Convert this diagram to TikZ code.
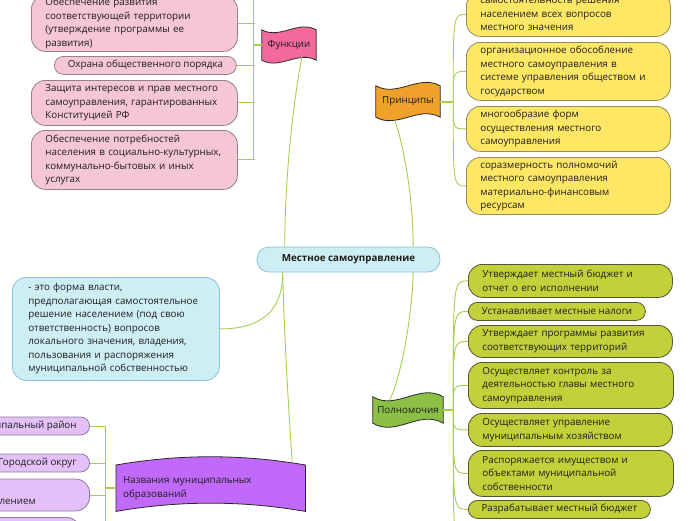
\documentclass[tikz,border=0pt]{standalone}
\usepackage{fontspec}
\setmainfont{Open Sans}
\usetikzlibrary{calc,backgrounds}
\definecolor{conn}{RGB}{166,206,79}
\definecolor{txt}{RGB}{30,30,30}
\definecolor{pinkf}{RGB}{245,198,214}
\definecolor{pinkd}{RGB}{150,128,140}
\definecolor{funf}{RGB}{242,106,155}
\definecolor{yelf}{RGB}{255,231,102}
\definecolor{yeld}{RGB}{150,140,90}
\definecolor{prf}{RGB}{240,161,41}
\definecolor{cyf}{RGB}{205,238,243}
\definecolor{cyd}{RGB}{141,191,226}
\definecolor{grf}{RGB}{194,209,58}
\definecolor{grd}{RGB}{85,85,47}
\definecolor{pwf}{RGB}{139,192,69}
\definecolor{lavf}{RGB}{228,192,248}
\definecolor{lavd}{RGB}{139,122,153}
\definecolor{nmf}{RGB}{193,105,249}
\definecolor{flagd}{RGB}{40,40,40}
\tikzset{
  txtfont/.style={font=\fontsize{9.8}{13.5}\selectfont, text=txt},
  base/.style={draw, line width=0.8pt, rounded corners=14pt, anchor=north west, inner ysep=0pt, txtfont},
  multi/.style={align=left, inner xsep=14pt},
  single/.style={align=center, inner xsep=0pt, rounded corners=9pt},
  pinkbox/.style={base, fill=pinkf, draw=pinkd},
  yelbox/.style={base, fill=yelf, draw=yeld},
  cybox/.style={base, fill=cyf, draw=cyd},
  grbox/.style={base, fill=grf, draw=grd},
  lavbox/.style={base, fill=lavf, draw=lavd},
  flagn/.style={inner sep=0pt, txtfont, anchor=center},
  flagline/.style={draw=flagd, line width=0.8pt},
  cline/.style={draw=conn, line width=0.9pt},
  cthick/.style={draw=conn, line width=2pt},
}
% name, first amplitude, second amplitude, fill
\newcommand\wavyflag[4]{%
  \draw[flagline, fill=#4] (#1.north west)
    .. controls ($(#1.north west)!1/3!(#1.north east)+(0,#2)$) and ($(#1.north west)!2/3!(#1.north east)+(0,#3)$) .. (#1.north east)
    -- (#1.south east)
    .. controls ($(#1.south west)!2/3!(#1.south east)+(0,#3)$) and ($(#1.south west)!1/3!(#1.south east)+(0,#2)$) .. (#1.south west)
    -- cycle;}
\begin{document}
\begin{tikzpicture}[x=1pt,y=-1pt]
\useasboundingbox (0,0) rectangle (696,520);

% ---------- centre ----------
\node[cybox, anchor=center, align=center, inner xsep=0pt, rounded corners=12pt,
      minimum width=183pt, minimum height=25pt, font=\fontsize{9.8}{13.5}\selectfont\bfseries] (c) at (348.5,259.5) {Местное самоуправление};

% ---------- definition ----------
\node[cybox, multi, inner xsep=16pt, text width=175pt, minimum height=103pt] (def) at (12,277)
  {- это форма власти,\\ предполагающая самостоятельное\\ решение населением (под свою\\ ответственность) вопросов\\ локального значения, владения,\\ пользования и распоряжения\\ муниципальной собственностью};

% ---------- functions ----------
\node[pinkbox, multi, text width=178pt, minimum height=56pt] (f1) at (31,-5)
  {Обеспечение развития\\ соответствующей территории\\ (утверждение программы ее\\ развития)};
\node[pinkbox, single, minimum width=182pt, minimum height=18pt] (f2) at (54,56) {Охрана общественного порядка};
\node[pinkbox, multi, text width=178pt, minimum height=45pt] (f3) at (31,80)
  {Защита интересов и прав местного\\ самоуправления, гарантированных\\ Конституцией РФ};
\node[pinkbox, multi, text width=178pt, minimum height=59pt] (f4) at (31,130)
  {Обеспечение потребностей\\ населения в социально-культурных,\\ коммунально-бытовых и иных\\ услугах};
\node[flagn, minimum width=54pt, minimum height=30pt] (fun) at (289,45) {Функции};

% ---------- principles ----------
\node[yelbox, multi, text width=176pt, minimum height=44pt] (y1) at (466,-8)
  {самостоятельность решения\\ населением всех вопросов\\ местного значения};
\node[yelbox, multi, text width=176pt, minimum height=58pt] (y2) at (466,42)
  {организационное обособление\\ местного самоуправления в\\ системе управления обществом и\\ государством};
\node[yelbox, multi, text width=176pt, minimum height=45pt] (y3) at (466,106)
  {многообразие форм\\ осуществления местного\\ самоуправления};
\node[yelbox, multi, text width=176pt, minimum height=57pt] (y4) at (466,157)
  {соразмерность полномочий\\ местного самоуправления\\ материально-финансовым\\ ресурсам};
\node[flagn, minimum width=64pt, minimum height=31pt] (pr) at (408,101.5) {Принципы};

% ---------- powers ----------
\node[grbox, multi, text width=176pt, minimum height=33pt] (g1) at (468,264)
  {Утверждает местный бюджет и\\ отчет о его исполнении};
\node[grbox, single, minimum width=177pt, minimum height=18pt] (g2) at (468,302) {Устанавливает местные налоги};
\node[grbox, multi, text width=176pt, minimum height=32pt] (g3) at (468,325)
  {Утверждает программы развития\\ соответствующих территорий};
\node[grbox, multi, text width=177pt, minimum height=46pt] (g4) at (468,362)
  {Осуществляет контроль за\\ деятельностью главы местного\\ самоуправления};
\node[grbox, multi, text width=176pt, minimum height=33pt] (g5) at (468,413)
  {Осуществляет управление\\ муниципальным хозяйством};
\node[grbox, multi, text width=177pt, minimum height=46pt] (g6) at (468,450)
  {Распоряжается имуществом и\\ объектами муниципальной\\ собственности};
\node[grbox, single, minimum width=182pt, minimum height=18pt] (g7) at (468,500) {Разрабатывает местный бюджет};
\node[flagn, minimum width=70pt, minimum height=26pt] (pw) at (408,410) {Полномочия};

% ---------- municipal names ----------
\node[lavbox, single, inner xsep=13pt, minimum height=18pt, anchor=east] (l1) at (90,426) {Муниципальный район};
\node[lavbox, single, inner xsep=13pt, minimum height=18pt, anchor=east] (l2) at (90,463) {Городской округ};
\node[lavbox, minimum width=200pt, minimum height=32pt, anchor=east] (l3) at (90,495) {};
\node[txtfont, align=left, anchor=east, inner sep=0pt] (l3t) at (36,495) {Городской округ с\\ внутригородским делением};
\node[lavbox, minimum width=160pt, minimum height=30pt, anchor=north east] (l4) at (81,517) {};
\node[flagn, anchor=north west, align=left, text width=175pt, inner xsep=7pt, minimum height=46pt] (nm) at (116,465)
  {Названия муниципальных\\ образований};

% ---------- flags (behind their texts) ----------
\begin{scope}[on background layer]
  \wavyflag{fun}{10}{-10}{funf}
  \wavyflag{pr}{12}{-12}{prf}
  \wavyflag{pw}{14}{-14}{pwf}
  \wavyflag{nm}{-11}{-11}{nmf}
\end{scope}

% ---------- connectors from centre ----------
\draw[cline] ($(fun.-50)+(0,-3)$) .. controls (292,110) and (285,180) .. ($(c.north west)!0.153!(c.north east)$);
\draw[cline] ($(pr.-130)+(0,3)$) .. controls (405,150) and (413,200) .. ($(c.north west)!0.852!(c.north east)$);
\draw[cline] ($(c.south west)!0.852!(c.south east)$) .. controls (412,320) and (400,380) .. ($(pw.144)+(0,3)$);
\draw[cline] ($(c.south west)!0.142!(c.south east)$) .. controls (284,330) and (288,400) .. ($(nm.north west)!0.93!(nm.north east)+(0,-3)$);
\draw[cline] (def.east) .. controls (262,329) and (283,310) .. ($(c.south west)!0.142!(c.south east)$);

% ---------- functions tree ----------
\coordinate (ft) at (253,-10);
\draw[cline] (ft) -- (f4.east -| ft);
\foreach \n in {f1,f2,f3,f4} \draw[cline] (\n.east) -- ($(\n.east -| ft)+(2,0)$);
\draw[cthick] (fun.west) -- (fun.west -| ft);

% ---------- principles tree ----------
\coordinate (ps) at ($(pr.east)+(13,0)$);
\draw[cthick] (pr.east) -- (ps);
\foreach \n in {y1,y2,y3,y4} \draw[cline] (ps) .. controls (ps |- \n.west) .. (\n.west);

% ---------- powers tree ----------
\coordinate (gs) at ($(pw.east)+(10,0)$);
\coordinate (gend) at (460,535);
\draw[cthick] (pw.east) -- (gs);
\foreach \n in {g1,g2,g3,g4,g5,g6,g7} \draw[cline] (gs) .. controls (gs |- \n.west) .. (\n.west);
\draw[cline] (gs) .. controls (gs |- gend) .. (gend);

% ---------- names tree ----------
\coordinate (nt) at (105,530);
\draw[cline] (l1.east -| nt) -- (nt);
\foreach \n in {l1,l2,l3} \draw[cline] (\n.east) -- (\n.east -| nt);
\draw[cthick] (nm.west) -- (nm.west -| nt);
\end{tikzpicture}
\end{document}
